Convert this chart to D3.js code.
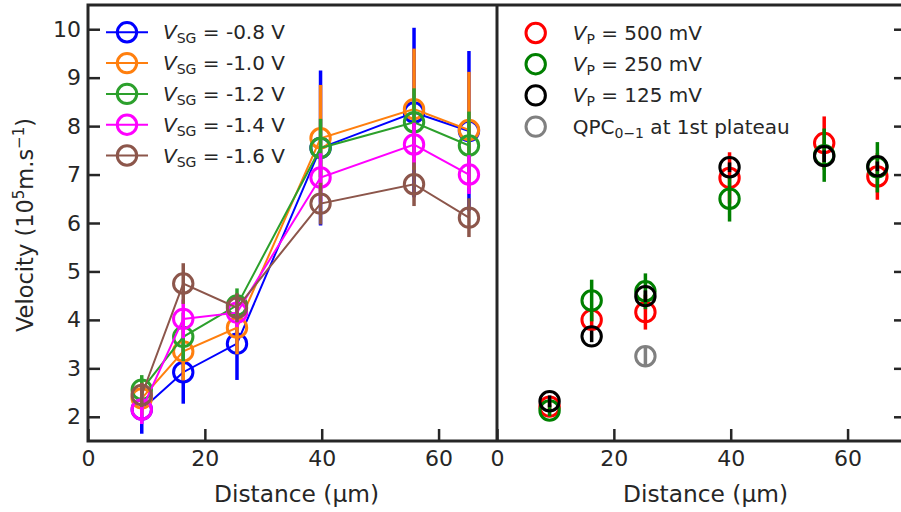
<!DOCTYPE html>
<html><head><meta charset="utf-8">
<script src="https://cdn.jsdelivr.net/npm/d3@7"></script>
<style>
body{margin:0;background:#fff}
svg{display:block}
text{font-family:"DejaVu Sans",sans-serif;fill:#262626}
</style>
</head><body>
<svg id="c" width="901" height="512"></svg>
<script>
// ---------- data ----------
const xTicks = [0, 20, 40, 60];
const yTicks = [2, 3, 4, 5, 6, 7, 8, 9, 10];

// left panel: gate voltage series
const leftDistance = [9.2, 16.3, 25.5, 39.8, 55.8, 65.2];
const vsgLabels = ["-0.8", "-1.0", "-1.2", "-1.4", "-1.6"];
const vsgColors = ["#0000ff", "#ff7f0e", "#2ca02c", "#ff00ff", "#8c564b"];
const vsg08 = [2.15, 2.92, 3.51, 7.55, 8.28, 7.90];
const vsg08Err = [0.50, 0.65, 0.75, 1.60, 1.75, 1.65];
const vsg10 = [2.38, 3.35, 3.84, 7.75, 8.35, 7.92];
const vsg10Err = [0.35, 0.60, 0.55, 1.10, 1.25, 1.20];
const vsg12 = [2.56, 3.65, 4.30, 7.55, 8.08, 7.60];
const vsg12Err = [0.30, 0.50, 0.35, 0.60, 0.70, 0.70];
const vsg14 = [2.15, 4.02, 4.15, 6.94, 7.62, 7.00];
const vsg14Err = [0.30, 0.40, 0.30, 0.50, 0.45, 0.40];
const vsg16 = [2.45, 4.75, 4.25, 6.40, 6.80, 6.11];
const vsg16Err = [0.25, 0.42, 0.30, 0.43, 0.45, 0.40];

// right panel: pulse amplitude series
const rightDistance = [9.0, 16.2, 25.4, 39.8, 56.0, 65.1];
const vp500 = [2.21, 4.00, 4.16, 6.93, 7.65, 6.96];
const vp500Err = [0.10, 0.15, 0.36, 0.53, 0.55, 0.48];
const vp250 = [2.13, 4.40, 4.59, 6.50, 7.40, 7.15];
const vp250Err = [0.12, 0.43, 0.37, 0.47, 0.55, 0.52];
const vp125 = [2.32, 3.66, 4.49, 7.15, 7.38, 7.17];
const vp125Err = [0.12, 0.12, 0.12, 0.10, 0.12, 0.10];
const qpcDistance = [25.4];
const qpc = [3.25];
const qpcErr = [0.20];

// ---------- build ----------
const leftSeries = [vsg08, vsg10, vsg12, vsg14, vsg16].map((v, i) => ({
  label: vsgLabels[i], color: vsgColors[i], values: v,
  errs: [vsg08Err, vsg10Err, vsg12Err, vsg14Err, vsg16Err][i], x: leftDistance
}));
const rightSeries = [
  {sub: "P", label: " = 500 mV", color: "#ff0000", values: vp500, errs: vp500Err, x: rightDistance, kind: "vp"},
  {sub: "P", label: " = 250 mV", color: "#008000", values: vp250, errs: vp250Err, x: rightDistance, kind: "vp"},
  {sub: "P", label: " = 125 mV", color: "#000000", values: vp125, errs: vp125Err, x: rightDistance, kind: "vp"},
  {sub: "0\u22121", label: " at 1st plateau", color: "#808080", values: qpc, errs: qpcErr, x: qpcDistance, kind: "qpc"}
];

const svg = d3.select("#c");
const yTop = 5, yBottom = 441;
const L = {x0: 88, x1: 497}, R = {x0: 497, x1: 906};
const y = d3.scaleLinear().domain([1.5, 10.5]).range([yBottom, yTop]);
const xL = d3.scaleLinear().domain([0, 70]).range([L.x0, L.x1]);
const xR = d3.scaleLinear().domain([0, 70]).range([R.x0, R.x1]);
const ink = "#262626";
const tickFont = 22;

function styleAxis(g) {
  g.select(".domain").remove();
  g.selectAll(".tick line").attr("stroke", ink).attr("stroke-width", 2.5);
  g.selectAll(".tick text").attr("font-size", tickFont).attr("font-family", "DejaVu Sans").attr("fill", ink);
}

// axes
svg.append("g").attr("transform", `translate(0,${yBottom})`)
  .call(d3.axisBottom(xL).tickValues(xTicks).tickSize(-12).tickPadding(9)).call(styleAxis);
svg.append("g").attr("transform", `translate(0,${yBottom})`)
  .call(d3.axisBottom(xR).tickValues(xTicks).tickSize(-12).tickPadding(9)).call(styleAxis);
svg.append("g").attr("transform", `translate(${L.x0},0)`)
  .call(d3.axisLeft(y).tickValues(yTicks).tickSize(-12).tickPadding(7)).call(styleAxis);
// right panel y ticks (labels lie beyond the picture edge in the reference)
svg.append("g").attr("transform", `translate(${R.x1},0)`)
  .call(d3.axisRight(y).tickValues(yTicks).tickSize(-12).tickFormat(() => "")).call(styleAxis);

// series drawing
function drawSeries(g, s, x, withLine) {
  const pts = s.values.map((v, i) => ({x: s.x[i], v, e: s.errs[i]}));
  const grp = g.append("g");
  if (withLine) {
    grp.append("path").datum(pts)
      .attr("fill", "none").attr("stroke", s.color).attr("stroke-width", 2)
      .attr("d", d3.line().x(d => x(d.x)).y(d => y(d.v)));
  }
  grp.selectAll("line.err").data(pts).join("line").attr("class", "err")
    .attr("x1", d => x(d.x)).attr("x2", d => x(d.x))
    .attr("y1", d => y(d.v - d.e)).attr("y2", d => y(d.v + d.e))
    .attr("stroke", s.color).attr("stroke-width", 3.5);
  grp.selectAll("circle").data(pts).join("circle")
    .attr("cx", d => x(d.x)).attr("cy", d => y(d.v)).attr("r", 9.7)
    .attr("fill", "none").attr("stroke", s.color).attr("stroke-width", 3);
}
const gL = svg.append("g");
leftSeries.forEach(s => drawSeries(gL, s, xL, true));
const gR = svg.append("g");
rightSeries.forEach(s => drawSeries(gR, s, xR, false));

// frame
const frame = svg.append("g").attr("stroke", ink).attr("stroke-width", 3).attr("fill", "none");
frame.append("rect").attr("x", L.x0).attr("y", yTop).attr("width", R.x1 - L.x0).attr("height", yBottom - yTop);
frame.append("line").attr("x1", L.x1).attr("x2", L.x1).attr("y1", yTop).attr("y2", yBottom);

// legends
const legL = svg.append("g");
leftSeries.forEach((s, i) => {
  const cy = 32.3 + i * 30.8;
  legL.append("line").attr("x1", 106).attr("x2", 148).attr("y1", cy).attr("y2", cy)
    .attr("stroke", s.color).attr("stroke-width", 2);
  legL.append("circle").attr("cx", 127).attr("cy", cy).attr("r", 9.7)
    .attr("fill", "none").attr("stroke", s.color).attr("stroke-width", 3);
  const t = legL.append("text").attr("x", 163).attr("y", cy + 7).attr("font-size", 20);
  t.append("tspan").attr("font-style", "italic").text("V");
  t.append("tspan").attr("font-size", 14).attr("dy", 4).text("SG");
  t.append("tspan").attr("dy", -4).text(` = ${s.label} V`);
});
const legR = svg.append("g");
rightSeries.forEach((s, i) => {
  const cy = 33 + i * 31.2;
  legR.append("circle").attr("cx", 535.7).attr("cy", cy).attr("r", 9.7)
    .attr("fill", "none").attr("stroke", s.color).attr("stroke-width", 3);
  const t = legR.append("text").attr("x", 572.7).attr("y", cy + 7).attr("font-size", 20);
  if (s.kind === "vp") {
    t.append("tspan").attr("font-style", "italic").text("V");
  } else {
    t.append("tspan").text("QPC");
  }
  t.append("tspan").attr("font-size", 14).attr("dy", 4).text(s.sub);
  t.append("tspan").attr("dy", -4).text(s.label);
});

// axis labels
[L, R].forEach(p => {
  svg.append("text").attr("x", (p.x0 + p.x1) / 2 + 4).attr("y", 501.5)
    .attr("text-anchor", "middle").attr("font-size", 23.3).text("Distance (\u00b5m)");
});
const yl = svg.append("text").attr("transform", "translate(33,225) rotate(-90)")
  .attr("text-anchor", "middle").attr("font-size", 22.5);
yl.append("tspan").text("Velocity (10");
yl.append("tspan").attr("font-size", 15).attr("dy", -9).text("5");
yl.append("tspan").attr("dy", 9).text("m.s");
yl.append("tspan").attr("font-size", 15).attr("dy", -9).text("\u22121");
yl.append("tspan").attr("dy", 9).text(")");
</script>
</body></html>
